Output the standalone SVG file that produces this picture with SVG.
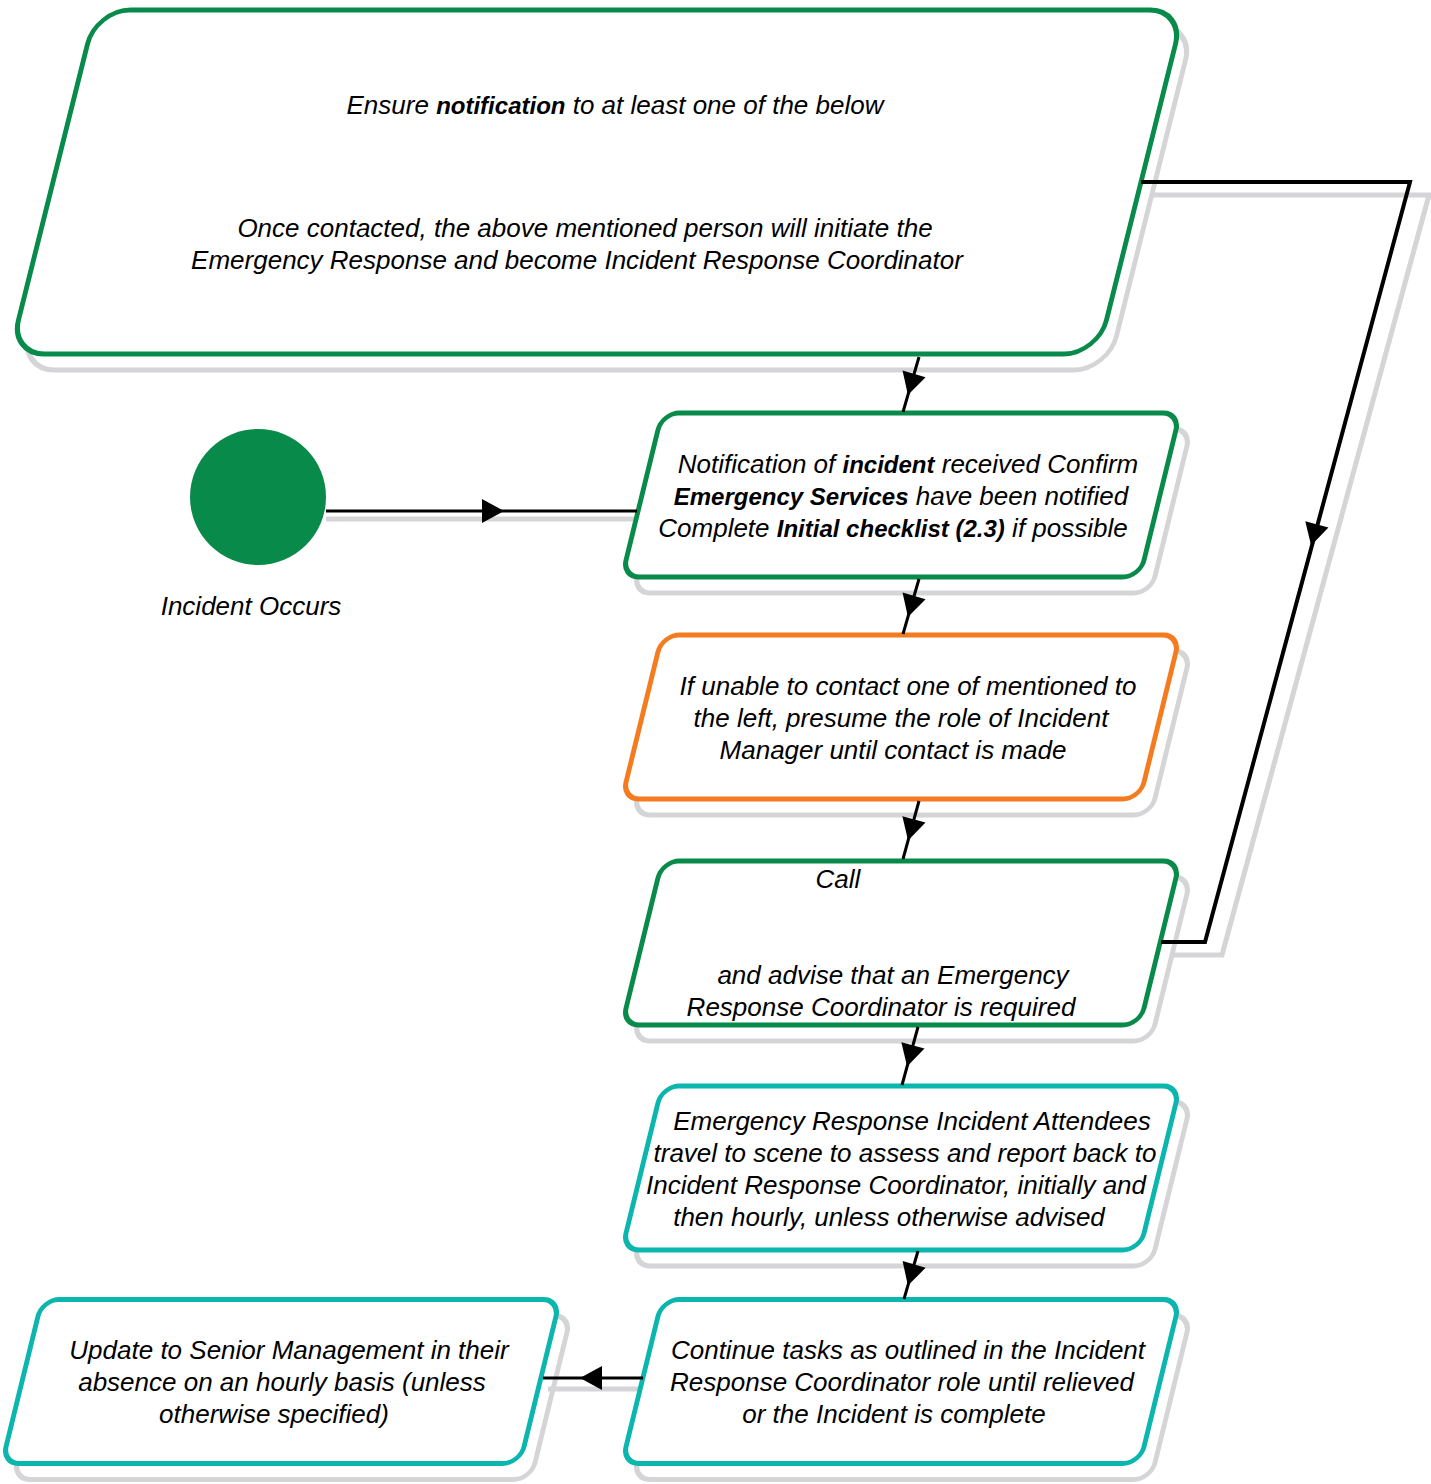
<svg xmlns="http://www.w3.org/2000/svg" xmlns:xlink="http://www.w3.org/1999/xlink" width="1431" height="1484" viewBox="0 0 1431 1484">
<style>
.sh{fill:none;stroke:#d5d5d7;stroke-width:5}
.g{fill:#fff;stroke:#088a4a;stroke-width:5}
.o{fill:#fff;stroke:#f47b20;stroke-width:5}
.t{fill:#fff;stroke:#0ab6ad;stroke-width:5}
text{font-family:"Liberation Sans",Arial,sans-serif;font-style:italic;font-size:26px;fill:#000;text-anchor:middle}
.b{font-weight:bold;font-size:24px}
.c{fill:none;stroke:#000;stroke-width:3}
.cw{fill:none;stroke:#000;stroke-width:4}
.cs{fill:none;stroke:#d5d5d7;stroke-width:5}
.ah{fill:#000;stroke:none}
</style>
<defs>
<rect id="big" x="-544" y="-172" width="1088" height="344" rx="34"/>
<rect id="sb" x="-259" y="-82" width="518" height="164" rx="17"/>
<path id="arrow" d="M-11,-12 L11,0 L-11,12 z"/>
</defs>
<rect width="1431" height="1484" fill="#fff"/>

<g id="connector-shadows">
<path class="cs" d="M326,519 L637,519"/>
<path class="cs" d="M548,1389 L640,1389"/>
<path class="cs" d="M1153,195 L1429,195 L1222,955 L1170,955"/>
</g>

<g id="node-notify-all">
<use href="#big" class="sh" transform="translate(607,198) skewX(-14.04)"/>
<use href="#big" class="g" transform="translate(597,182) skewX(-14.04)"/>
<text x="615" y="114">Ensure <tspan class="b">notification</tspan> to at least one of the below</text>
<text x="585" y="237">Once contacted, the above mentioned person will initiate the</text>
<text x="577" y="269">Emergency Response and become Incident Response Coordinator</text>
</g>

<g id="node-start">
<circle cx="258" cy="497" r="68" fill="#088a4a"/>
<text x="251" y="615">Incident Occurs</text>
</g>

<g id="node-received">
<use href="#sb" class="sh" transform="translate(912,511) skewX(-13.77)"/>
<use href="#sb" class="g" transform="translate(901,495) skewX(-13.77)"/>
<text x="908" y="473">Notification of <tspan class="b">incident</tspan> received Confirm</text>
<text x="901" y="505"><tspan class="b">Emergency Services</tspan> have been notified</text>
<text x="893" y="537">Complete <tspan class="b">Initial checklist (2.3)</tspan> if possible</text>
</g>

<g id="node-unable">
<use href="#sb" class="sh" transform="translate(912,733) skewX(-13.77)"/>
<use href="#sb" class="o" transform="translate(901,717) skewX(-13.77)"/>
<text x="908" y="695">If unable to contact one of mentioned to</text>
<text x="901" y="727">the left, presume the role of Incident</text>
<text x="893" y="759">Manager until contact is made</text>
</g>

<g id="node-call">
<use href="#sb" class="sh" transform="translate(912,959) skewX(-13.77)"/>
<use href="#sb" class="g" transform="translate(901,943) skewX(-13.77)"/>
<text x="838" y="888">Call</text>
<text x="893" y="984">and advise that an Emergency</text>
<text x="881" y="1016">Response Coordinator is required</text>
</g>

<g id="node-attendees">
<use href="#sb" class="sh" transform="translate(912,1184) skewX(-13.77)"/>
<use href="#sb" class="t" transform="translate(901,1168) skewX(-13.77)"/>
<text x="912" y="1130">Emergency Response Incident Attendees</text>
<text x="905" y="1162">travel to scene to assess and report back to</text>
<text x="896" y="1194">Incident Response Coordinator, initially and</text>
<text x="889" y="1226">then hourly, unless otherwise advised</text>
</g>

<g id="node-continue">
<use href="#sb" class="sh" transform="translate(912,1397.5) skewX(-13.77)"/>
<use href="#sb" class="t" transform="translate(901,1381.5) skewX(-13.77)"/>
<text x="908" y="1359">Continue tasks as outlined in the Incident</text>
<text x="902" y="1391">Response Coordinator role until relieved</text>
<text x="894" y="1423">or the Incident is complete</text>
</g>

<g id="node-update">
<use href="#sb" class="sh" transform="translate(292,1397.5) skewX(-13.77)"/>
<use href="#sb" class="t" transform="translate(281,1381.5) skewX(-13.77)"/>
<text x="289" y="1359">Update to Senior Management in their</text>
<text x="282" y="1391">absence on an hourly basis (unless</text>
<text x="274" y="1423">otherwise specified)</text>
</g>

<g id="connectors">
<path class="c" d="M326,511 L637,511"/>
<use href="#arrow" class="ah" transform="translate(493,511)"/>
<path class="c" d="M919,357 L903,412"/>
<use href="#arrow" class="ah" transform="translate(911,384.5) rotate(106.2)"/>
<path class="c" d="M919,579 L903,634"/>
<use href="#arrow" class="ah" transform="translate(911,606.5) rotate(106.2)"/>
<path class="c" d="M919,801 L903,859"/>
<use href="#arrow" class="ah" transform="translate(911,830) rotate(105.4)"/>
<path class="c" d="M918,1027 L902,1085"/>
<use href="#arrow" class="ah" transform="translate(910,1056) rotate(105.4)"/>
<path class="c" d="M918,1251 L904,1299"/>
<use href="#arrow" class="ah" transform="translate(911,1275) rotate(106.3)"/>
<path class="c" d="M643,1378 L543,1378"/>
<use href="#arrow" class="ah" transform="translate(591,1378) rotate(180)"/>
<path class="cw" d="M1141,182 L1410,182 L1205,942 L1161,942"/>
<use href="#arrow" class="ah" transform="translate(1314,535) rotate(105.1)"/>
</g>
</svg>
